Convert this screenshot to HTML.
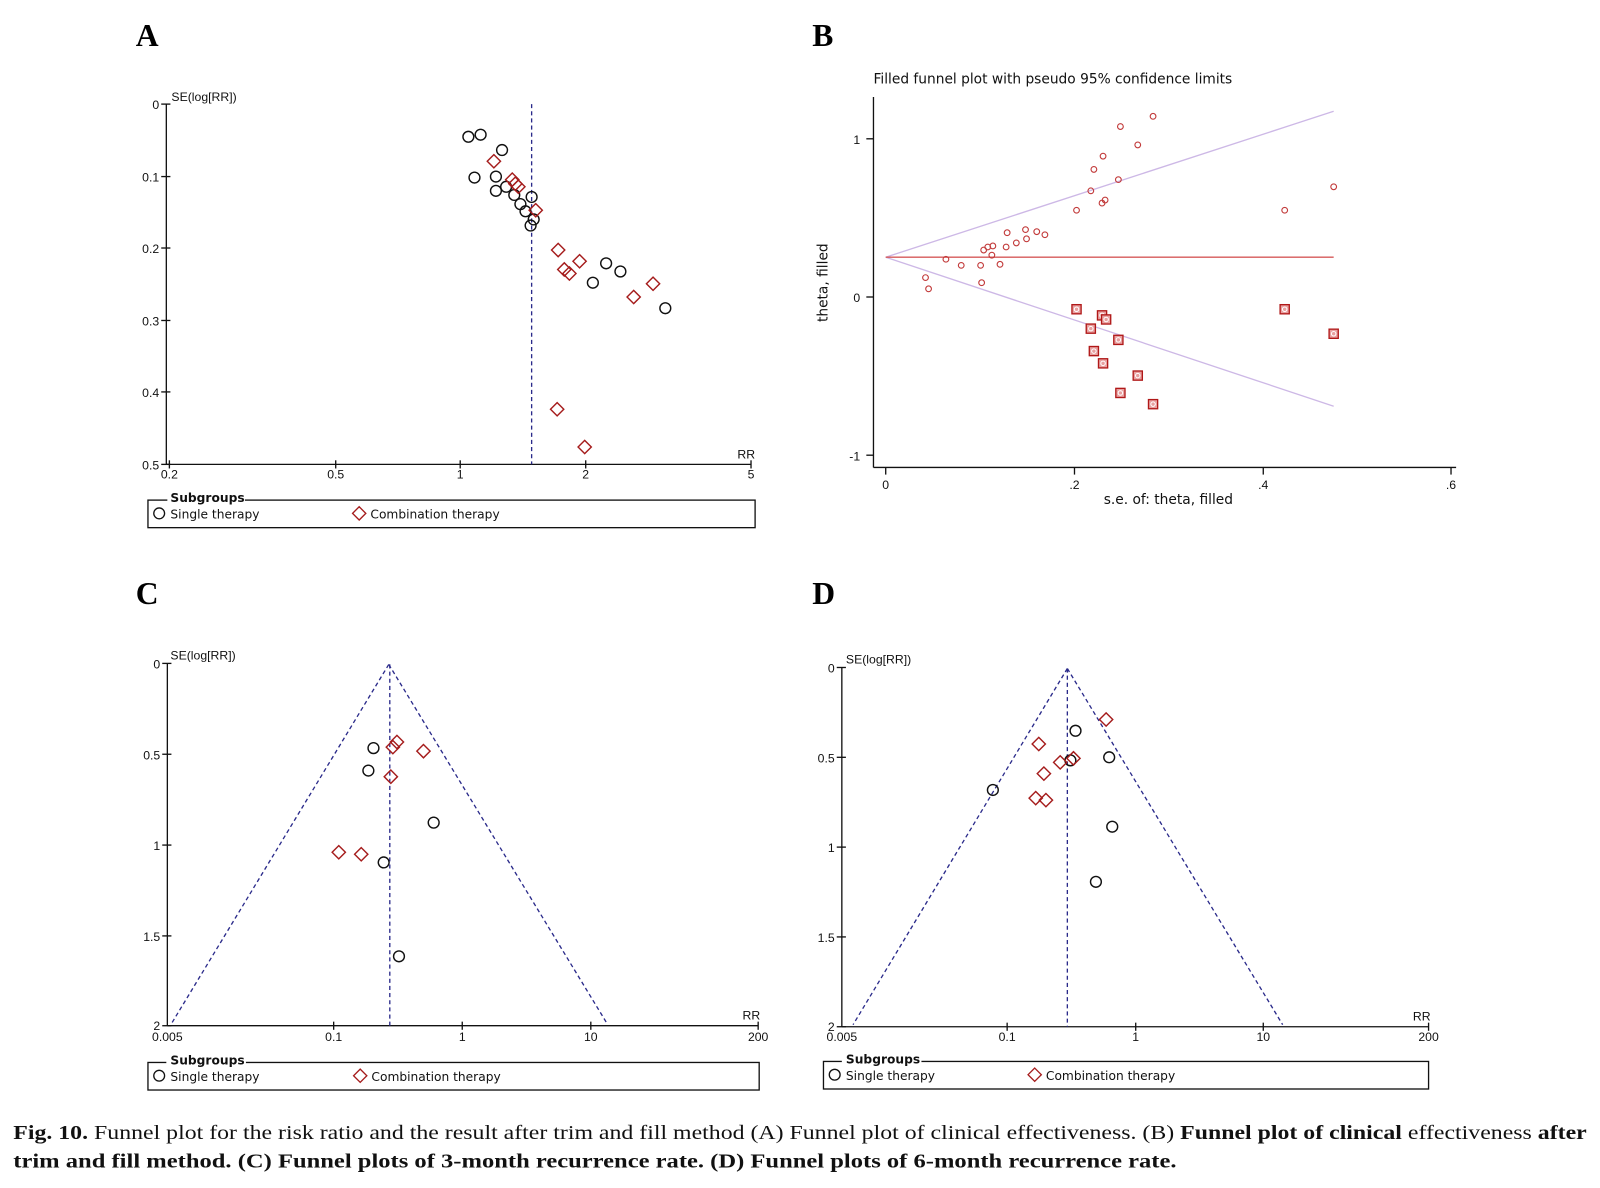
<!DOCTYPE html>
<html><head><meta charset="utf-8">
<style>
html,body{margin:0;padding:0;background:#fff;}
svg{display:block;}
.t{font-family:"Liberation Sans",sans-serif;font-size:12px;fill:#111;}
.lg{font-family:"DejaVu Sans","Liberation Sans",sans-serif;font-size:12px;fill:#111;}
.lb{font-family:"Liberation Serif",serif;font-weight:bold;font-size:31px;fill:#000;}
.cap{font-family:"Liberation Serif",serif;font-size:20px;fill:#111;}
</style></head>
<body>
<svg width="1600" height="1188" viewBox="0 0 1568 1164" preserveAspectRatio="none" xmlns="http://www.w3.org/2000/svg">
<defs>
<circle id="c" r="5.3" fill="none" stroke="#111" stroke-width="1.4"/>
<path id="d" d="M0,-6.5 L6.5,0 L0,6.5 L-6.5,0 Z" fill="none" stroke="#a51c1c" stroke-width="1.4"/>
<circle id="bc" r="2.8" fill="none" stroke="#c23b3b" stroke-width="1.1"/>
<g id="bs"><rect x="-4.5" y="-4.5" width="9" height="9" fill="#e8a0a0" stroke="#b01818" stroke-width="1.3"/><circle r="2.2" fill="none" stroke="#fff" stroke-width="1"/></g>
</defs>

<!-- Panel labels -->
<text class="lb" x="133" y="45">A</text>
<text class="lb" x="796" y="45">B</text>
<text class="lb" x="133" y="592">C</text>
<text class="lb" x="796" y="592">D</text>

<!-- ===== Panel A ===== -->
<g stroke="#111" stroke-width="1.3" fill="none">
<line x1="163" y1="102" x2="163" y2="455"/>
<line x1="163" y1="455" x2="736" y2="455"/>
<line x1="158" y1="102" x2="167" y2="102"/>
<line x1="158" y1="173" x2="167" y2="173"/>
<line x1="158" y1="243" x2="167" y2="243"/>
<line x1="158" y1="314" x2="167" y2="314"/>
<line x1="158" y1="384" x2="167" y2="384"/>
<line x1="158" y1="455" x2="167" y2="455"/>
<line x1="166" y1="451" x2="166" y2="459"/>
<line x1="329" y1="451" x2="329" y2="459"/>
<line x1="451" y1="451" x2="451" y2="459"/>
<line x1="574" y1="451" x2="574" y2="459"/>
<line x1="736" y1="451" x2="736" y2="459"/>
</g>
<g class="t" text-anchor="end">
<text x="156" y="107">0</text><text x="156" y="178">0.1</text><text x="156" y="248">0.2</text>
<text x="156" y="319">0.3</text><text x="156" y="389">0.4</text><text x="156" y="460">0.5</text>
</g>
<text class="t" x="168" y="99">SE(log[RR])</text>
<g class="t" text-anchor="middle">
<text x="166" y="469">0.2</text><text x="329" y="469">0.5</text><text x="451" y="469">1</text>
<text x="574" y="469">2</text><text x="736" y="469">5</text>
</g>
<text class="t" x="740" y="449" text-anchor="end">RR</text>
<line x1="521" y1="102" x2="521" y2="455" stroke="#2a2a8a" stroke-width="1.3" stroke-dasharray="4,3"/>
<g>
<use href="#c" x="459" y="134"/><use href="#c" x="471" y="132"/><use href="#c" x="492" y="147"/>
<use href="#c" x="465" y="174"/><use href="#c" x="486" y="173"/><use href="#c" x="486" y="187"/>
<use href="#c" x="496" y="183"/><use href="#c" x="504" y="191"/><use href="#c" x="510" y="200"/>
<use href="#c" x="515" y="207"/><use href="#c" x="521" y="193"/><use href="#c" x="523" y="215"/>
<use href="#c" x="520" y="221"/><use href="#c" x="594" y="258"/><use href="#c" x="608" y="266"/>
<use href="#c" x="581" y="277"/><use href="#c" x="652" y="302"/>
<use href="#d" x="484" y="158"/><use href="#d" x="502" y="176"/><use href="#d" x="505" y="180"/>
<use href="#d" x="508" y="183"/><use href="#d" x="525" y="206"/><use href="#d" x="547" y="245"/>
<use href="#d" x="568" y="256"/><use href="#d" x="553" y="264"/><use href="#d" x="558" y="268"/>
<use href="#d" x="640" y="278"/><use href="#d" x="621" y="291"/><use href="#d" x="546" y="401"/>
<use href="#d" x="573" y="438"/>
</g>
<!-- legend A -->
<rect x="145" y="490" width="595" height="27" fill="none" stroke="#111" stroke-width="1.3"/>
<rect x="164" y="482" width="76" height="14" fill="#fff"/>
<text class="lg" x="167" y="492" font-weight="bold">Subgroups</text>
<circle cx="156" cy="503" r="5.3" fill="none" stroke="#111" stroke-width="1.3"/>
<text class="lg" x="167" y="508">Single therapy</text>
<path d="M352,496.5 L358.5,503 L352,509.5 L345.5,503 Z" fill="none" stroke="#a51c1c" stroke-width="1.3"/>
<text class="lg" x="363" y="508">Combination therapy</text>

<!-- ===== Panel B ===== -->
<text x="856" y="82" font-family="DejaVu Sans, Liberation Sans, sans-serif" font-size="13.5" fill="#111">Filled funnel plot with pseudo 95% confidence limits</text>
<g stroke="#111" stroke-width="1.3">
<line x1="856" y1="95" x2="856" y2="458"/>
<line x1="856" y1="458" x2="1427" y2="458"/>
<line x1="849" y1="136" x2="856" y2="136"/>
<line x1="849" y1="291" x2="856" y2="291"/>
<line x1="849" y1="446" x2="856" y2="446"/>
<line x1="868" y1="458" x2="868" y2="465"/>
<line x1="1053" y1="458" x2="1053" y2="465"/>
<line x1="1238" y1="458" x2="1238" y2="465"/>
<line x1="1422" y1="458" x2="1422" y2="465"/>
</g>
<g class="t" font-size="13" text-anchor="end">
<text x="843" y="141">1</text><text x="843" y="296">0</text><text x="843" y="451">-1</text>
</g>
<g class="t" font-size="13" text-anchor="middle">
<text x="868" y="479">0</text><text x="1053" y="479">.2</text><text x="1238" y="479">.4</text><text x="1422" y="479">.6</text>
</g>
<text x="1145" y="494" text-anchor="middle" font-family="DejaVu Sans, Liberation Sans, sans-serif" font-size="13.5" fill="#111">s.e. of: theta, filled</text>
<text transform="translate(811,277) rotate(-90)" text-anchor="middle" font-family="DejaVu Sans, Liberation Sans, sans-serif" font-size="13.5" fill="#111">theta, filled</text>
<line x1="868" y1="252" x2="1307" y2="109" stroke="#cdb8e6" stroke-width="1.3"/>
<line x1="868" y1="252" x2="1307" y2="398" stroke="#cdb8e6" stroke-width="1.3"/>
<line x1="868" y1="252" x2="1307" y2="252" stroke="#d65a5a" stroke-width="1.3"/>
<g>
<use href="#bc" x="907" y="272"/><use href="#bc" x="910" y="283"/><use href="#bc" x="927" y="254"/>
<use href="#bc" x="942" y="260"/><use href="#bc" x="961" y="260"/><use href="#bc" x="962" y="277"/>
<use href="#bc" x="964" y="245"/><use href="#bc" x="968" y="242"/><use href="#bc" x="973" y="241"/>
<use href="#bc" x="972" y="250"/><use href="#bc" x="980" y="259"/><use href="#bc" x="987" y="228"/>
<use href="#bc" x="986" y="242"/><use href="#bc" x="996" y="238"/><use href="#bc" x="1005" y="225"/>
<use href="#bc" x="1006" y="234"/><use href="#bc" x="1016" y="227"/><use href="#bc" x="1024" y="230"/>
<use href="#bc" x="1055" y="206"/><use href="#bc" x="1069" y="187"/><use href="#bc" x="1072" y="166"/>
<use href="#bc" x="1081" y="153"/><use href="#bc" x="1080" y="199"/><use href="#bc" x="1083" y="196"/>
<use href="#bc" x="1096" y="176"/><use href="#bc" x="1098" y="124"/><use href="#bc" x="1115" y="142"/>
<use href="#bc" x="1130" y="114"/><use href="#bc" x="1259" y="206"/><use href="#bc" x="1307" y="183"/>
<use href="#bs" x="1055" y="303"/><use href="#bs" x="1069" y="322"/><use href="#bs" x="1080" y="309"/>
<use href="#bs" x="1084" y="313"/><use href="#bs" x="1072" y="344"/><use href="#bs" x="1096" y="333"/>
<use href="#bs" x="1081" y="356"/><use href="#bs" x="1115" y="368"/><use href="#bs" x="1098" y="385"/>
<use href="#bs" x="1130" y="396"/><use href="#bs" x="1259" y="303"/><use href="#bs" x="1307" y="327"/>
</g>

<!-- ===== Panel C ===== -->
<g stroke="#111" stroke-width="1.3" fill="none">
<line x1="164" y1="650" x2="164" y2="1005"/>
<line x1="164" y1="1005" x2="743" y2="1005"/>
<line x1="159" y1="650" x2="168" y2="650"/>
<line x1="159" y1="739" x2="168" y2="739"/>
<line x1="159" y1="828" x2="168" y2="828"/>
<line x1="159" y1="917" x2="168" y2="917"/>
<line x1="159" y1="1005" x2="168" y2="1005"/>
<line x1="327" y1="1001" x2="327" y2="1009"/>
<line x1="453" y1="1001" x2="453" y2="1009"/>
<line x1="579" y1="1001" x2="579" y2="1009"/>
<line x1="743" y1="1001" x2="743" y2="1009"/>
</g>
<g class="t" text-anchor="end">
<text x="157" y="655">0</text><text x="157" y="744">0.5</text><text x="157" y="833">1</text>
<text x="157" y="922">1.5</text><text x="157" y="1009">2</text>
</g>
<text class="t" x="167" y="646">SE(log[RR])</text>
<g class="t" text-anchor="middle">
<text x="164" y="1020">0.005</text><text x="327" y="1020">0.1</text><text x="453" y="1020">1</text>
<text x="579" y="1020">10</text><text x="743" y="1020">200</text>
</g>
<text class="t" x="745" y="999" text-anchor="end">RR</text>
<g stroke="#2a2a8a" stroke-width="1.3" stroke-dasharray="4,3" fill="none">
<line x1="382" y1="651" x2="382" y2="1005"/>
<line x1="381" y1="651" x2="168" y2="1003"/>
<line x1="381" y1="651" x2="595" y2="1003"/>
</g>
<g>
<use href="#c" x="366" y="733"/><use href="#c" x="361" y="755"/><use href="#c" x="425" y="806"/>
<use href="#c" x="376" y="845"/><use href="#c" x="391" y="937"/>
<use href="#d" x="389" y="727"/><use href="#d" x="385" y="732"/><use href="#d" x="415" y="736"/>
<use href="#d" x="383" y="761"/><use href="#d" x="332" y="835"/><use href="#d" x="354" y="837"/>
</g>
<rect x="145" y="1041" width="599" height="27" fill="none" stroke="#111" stroke-width="1.3"/>
<rect x="163" y="1033" width="78" height="14" fill="#fff"/>
<text class="lg" x="167" y="1043" font-weight="bold">Subgroups</text>
<circle cx="156" cy="1054" r="5.3" fill="none" stroke="#111" stroke-width="1.3"/>
<text class="lg" x="167" y="1059">Single therapy</text>
<path d="M353,1047.5 L359.5,1054 L353,1060.5 L346.5,1054 Z" fill="none" stroke="#a51c1c" stroke-width="1.3"/>
<text class="lg" x="364" y="1059">Combination therapy</text>

<!-- ===== Panel D ===== -->
<g stroke="#111" stroke-width="1.3" fill="none">
<line x1="825" y1="654" x2="825" y2="1006"/>
<line x1="825" y1="1006" x2="1400" y2="1006"/>
<line x1="820" y1="654" x2="829" y2="654"/>
<line x1="820" y1="742" x2="829" y2="742"/>
<line x1="820" y1="830" x2="829" y2="830"/>
<line x1="820" y1="918" x2="829" y2="918"/>
<line x1="820" y1="1006" x2="829" y2="1006"/>
<line x1="987" y1="1002" x2="987" y2="1010"/>
<line x1="1113" y1="1002" x2="1113" y2="1010"/>
<line x1="1238" y1="1002" x2="1238" y2="1010"/>
<line x1="1400" y1="1002" x2="1400" y2="1010"/>
</g>
<g class="t" text-anchor="end">
<text x="818" y="659">0</text><text x="818" y="747">0.5</text><text x="818" y="835">1</text>
<text x="818" y="923">1.5</text><text x="818" y="1010">2</text>
</g>
<text class="t" x="829" y="650">SE(log[RR])</text>
<g class="t" text-anchor="middle">
<text x="825" y="1020">0.005</text><text x="987" y="1020">0.1</text><text x="1113" y="1020">1</text>
<text x="1238" y="1020">10</text><text x="1400" y="1020">200</text>
</g>
<text class="t" x="1402" y="1000" text-anchor="end">RR</text>
<g stroke="#2a2a8a" stroke-width="1.3" stroke-dasharray="4,3" fill="none">
<line x1="1046" y1="655" x2="1046" y2="1006"/>
<line x1="1046" y1="655" x2="836" y2="1004"/>
<line x1="1046" y1="655" x2="1257" y2="1004"/>
</g>
<g>
<use href="#c" x="1054" y="716"/><use href="#c" x="1087" y="742"/><use href="#c" x="973" y="774"/>
<use href="#c" x="1049" y="745"/><use href="#c" x="1090" y="810"/><use href="#c" x="1074" y="864"/>
<use href="#d" x="1084" y="705"/><use href="#d" x="1018" y="729"/><use href="#d" x="1052" y="743"/>
<use href="#d" x="1039" y="747"/><use href="#d" x="1023" y="758"/><use href="#d" x="1015" y="782"/>
<use href="#d" x="1025" y="784"/>
</g>
<rect x="807" y="1040" width="593" height="27" fill="none" stroke="#111" stroke-width="1.3"/>
<rect x="825" y="1032" width="78" height="14" fill="#fff"/>
<text class="lg" x="829" y="1042" font-weight="bold">Subgroups</text>
<circle cx="818" cy="1053" r="5.3" fill="none" stroke="#111" stroke-width="1.3"/>
<text class="lg" x="829" y="1058">Single therapy</text>
<path d="M1014,1046.5 L1020.5,1053 L1014,1059.5 L1007.5,1053 Z" fill="none" stroke="#a51c1c" stroke-width="1.3"/>
<text class="lg" x="1025" y="1058">Combination therapy</text>

<!-- Caption -->
<text class="cap" x="13" y="1116" textLength="1542" lengthAdjust="spacingAndGlyphs"><tspan font-weight="bold">Fig. 10.</tspan> Funnel plot for the risk ratio and the result after trim and fill method (A) Funnel plot of clinical effectiveness. (B) <tspan font-weight="bold">Funnel plot of clinical</tspan> effectiveness <tspan font-weight="bold">after</tspan></text>
<text class="cap" x="13" y="1144" font-weight="bold" textLength="1140" lengthAdjust="spacingAndGlyphs">trim and fill method. (C) Funnel plots of 3-month recurrence rate. (D) Funnel plots of 6-month recurrence rate.</text>
</svg>
</body></html>
